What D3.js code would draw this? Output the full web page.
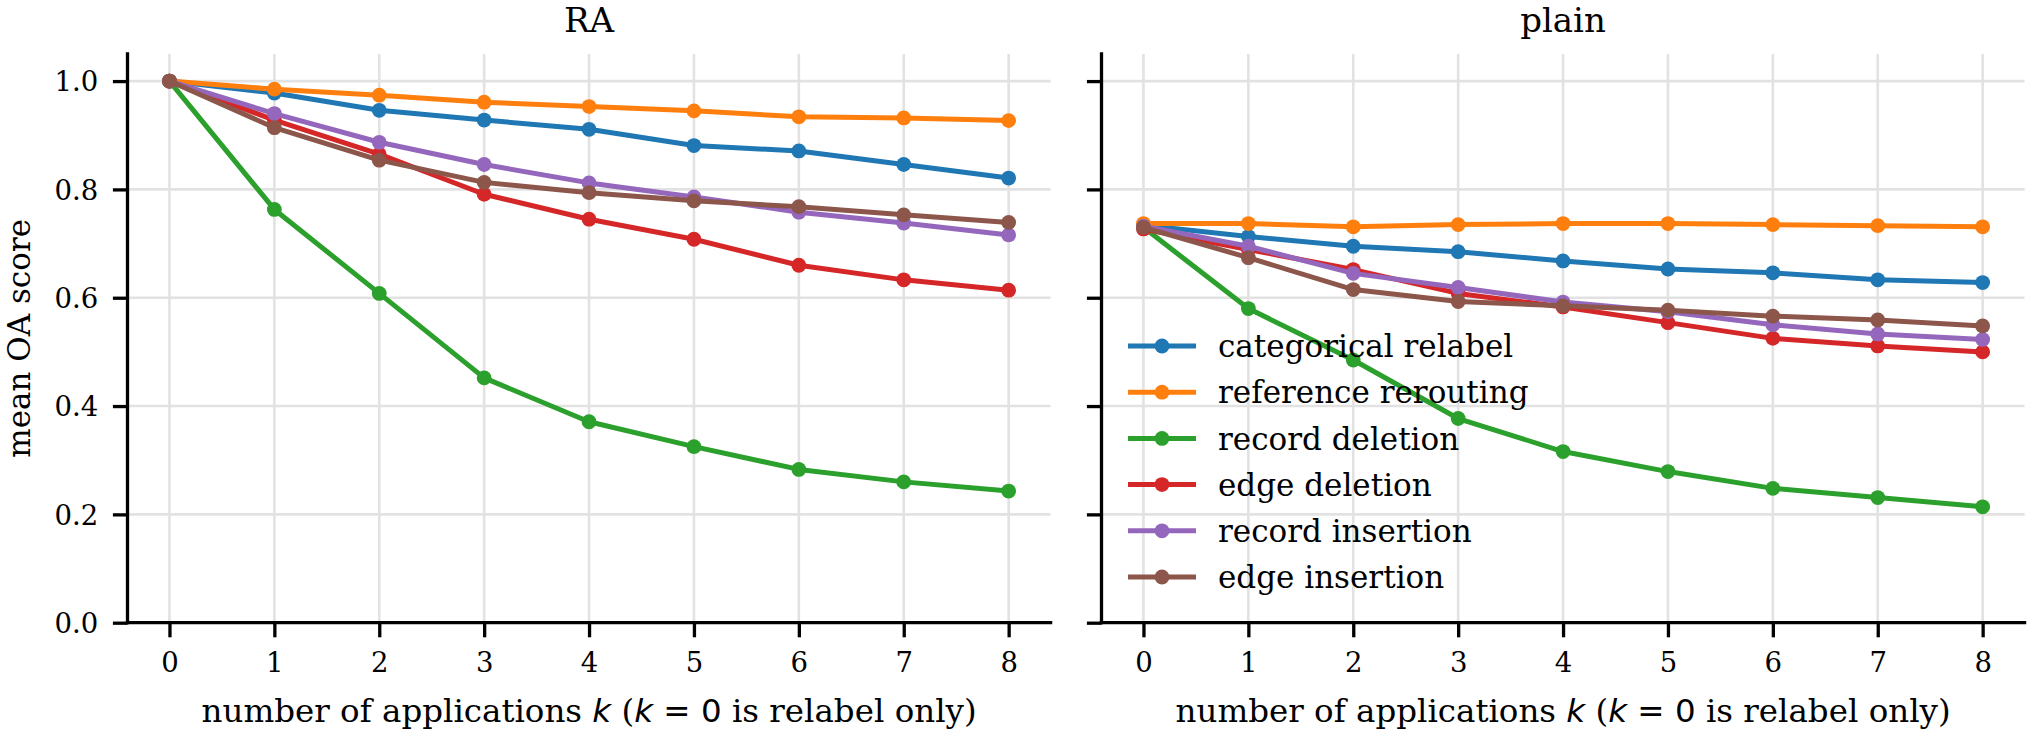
<!DOCTYPE html>
<html>
<head>
<meta charset="utf-8">
<script src="https://cdn.jsdelivr.net/npm/d3@7"></script>
<style>
  body { margin: 0; background: #fff; }
  svg { display: block; }
  text { font-family: "DejaVu Serif", serif; fill: #000; }
  .math { font-family: "DejaVu Sans", sans-serif; }
</style>
</head>
<body>
<div id="chart"></div>
<script>

// number of applications k
const ks = [0, 1, 2, 3, 4, 5, 6, 7, 8];

const seriesNames = ["categorical relabel", "reference rerouting", "record deletion",
	"edge deletion", "record insertion", "edge insertion"];
const seriesColors = ["#1f77b4", "#ff7f0e", "#2ca02c", "#d62728", "#9467bd", "#8c564b"];

// RA panel
const raCategorical = [1.000, 0.978, 0.946, 0.928, 0.911, 0.881, 0.871, 0.846, 0.821];
const raReference   = [1.000, 0.985, 0.974, 0.961, 0.953, 0.945, 0.934, 0.932, 0.927];
const raRecordDel   = [1.000, 0.763, 0.608, 0.452, 0.371, 0.325, 0.283, 0.260, 0.243];
const raEdgeDel     = [1.000, 0.928, 0.865, 0.791, 0.745, 0.708, 0.660, 0.633, 0.614];
const raRecordIns   = [1.000, 0.940, 0.887, 0.846, 0.812, 0.786, 0.758, 0.738, 0.716];
const raEdgeIns     = [1.000, 0.914, 0.854, 0.813, 0.794, 0.779, 0.768, 0.753, 0.739];

// plain panel
const plainCategorical = [0.734, 0.713, 0.695, 0.685, 0.668, 0.653, 0.646, 0.633, 0.628];
const plainReference   = [0.737, 0.737, 0.731, 0.735, 0.737, 0.737, 0.735, 0.733, 0.731];
const plainRecordDel   = [0.730, 0.580, 0.485, 0.377, 0.316, 0.279, 0.248, 0.231, 0.214];
const plainEdgeDel     = [0.727, 0.689, 0.652, 0.608, 0.583, 0.554, 0.525, 0.511, 0.500];
const plainRecordIns   = [0.732, 0.695, 0.645, 0.619, 0.592, 0.574, 0.550, 0.533, 0.523];
const plainEdgeIns     = [0.730, 0.674, 0.615, 0.593, 0.585, 0.577, 0.566, 0.559, 0.548];

const yTicks = [0.0, 0.2, 0.4, 0.6, 0.8, 1.0];

const panels = [
	{title: "RA", left: 127.5, series: [raCategorical, raReference, raRecordDel, raEdgeDel, raRecordIns, raEdgeIns], yLabels: true},
	{title: "plain", left: 1101.5, series: [plainCategorical, plainReference, plainRecordDel, plainEdgeDel, plainRecordIns, plainEdgeIns], yLabels: false}
];

const W = 2028, H = 733;
const panelW = 923.1;
const plotTop = 54, plotBottom = 622.7;
const tickLen = 14.6, tickPad = 14.6;

const svg = d3.select("#chart").append("svg")
	.attr("width", W)
	.attr("height", H);

let y = d3.scaleLinear().domain([0, 1.05]).range([plotBottom, plotTop]);

panels.forEach(function(p, pi) {
	let x = d3.scaleLinear().domain([-0.4, 8.4]).range([p.left, p.left + panelW]);
	let g = svg.append("g");

	// grid
	g.selectAll(".vgrid").data(ks).enter().append("line")
		.attr("x1", d => x(d)).attr("x2", d => x(d))
		.attr("y1", plotTop).attr("y2", plotBottom)
		.attr("stroke", "#e2e2e2").attr("stroke-width", 2.6);
	g.selectAll(".hgrid").data(yTicks).enter().append("line")
		.attr("x1", p.left).attr("x2", p.left + panelW)
		.attr("y1", d => y(d)).attr("y2", d => y(d))
		.attr("stroke", "#e2e2e2").attr("stroke-width", 2.6);

	// lines + markers
	let line = d3.line().x((d, i) => x(ks[i])).y(d => y(d));
	p.series.forEach(function(vals, si) {
		g.append("path")
			.attr("d", line(vals))
			.attr("fill", "none")
			.attr("stroke", seriesColors[si])
			.attr("stroke-width", 5)
			.attr("stroke-linejoin", "round");
		g.selectAll(".dot" + si).data(vals).enter().append("circle")
			.attr("cx", (d, i) => x(ks[i]))
			.attr("cy", d => y(d))
			.attr("r", 7.4)
			.attr("fill", seriesColors[si]);
	});

	// axes
	let xAxis = d3.axisBottom(x).tickValues(ks).tickSize(tickLen).tickPadding(tickPad);
	let yAxis = d3.axisLeft(y).tickValues(yTicks).tickSize(tickLen).tickPadding(tickPad)
		.tickFormat(p.yLabels ? d3.format(".1f") : () => "");

	let gx = g.append("g").attr("transform", "translate(0," + plotBottom + ")").call(xAxis);
	let gy = g.append("g").attr("transform", "translate(" + p.left + ",0)").call(yAxis);

	[gx, gy].forEach(function(a) {
		a.select(".domain").remove();
		a.selectAll(".tick line").attr("stroke", "#000").attr("stroke-width", 3.3);
		a.selectAll(".tick text").attr("font-family", "DejaVu Serif").attr("font-size", 27.5).attr("fill", "#000");
	});
	gx.selectAll(".tick text").attr("dy", "0.74em");
	gy.selectAll(".tick text").attr("dy", "0.36em");

	// spines
	g.append("line").attr("x1", p.left).attr("x2", p.left)
		.attr("y1", plotTop).attr("y2", plotBottom)
		.attr("stroke", "#000").attr("stroke-width", 3.3).attr("stroke-linecap", "square");
	g.append("line").attr("x1", p.left).attr("x2", p.left + panelW)
		.attr("y1", plotBottom).attr("y2", plotBottom)
		.attr("stroke", "#000").attr("stroke-width", 3.3).attr("stroke-linecap", "square");

	// title
	g.append("text")
		.attr("x", p.left + panelW / 2).attr("y", 31.5)
		.attr("text-anchor", "middle")
		.attr("font-size", 34)
		.text(p.title);

	// x label with italic k
	let xl = g.append("text")
		.attr("x", p.left + panelW / 2).attr("y", 722)
		.attr("text-anchor", "middle")
		.attr("font-size", 32.5);
	xl.append("tspan").text("number of applications ");
	xl.append("tspan").attr("class", "math").attr("font-style", "italic").text("k");
	xl.append("tspan").text(" (");
	xl.append("tspan").attr("class", "math").attr("font-style", "italic").text("k");
	xl.append("tspan").attr("class", "math").text(" = 0");
	xl.append("tspan").text(" is relabel only)");

	if (pi === 0) {
		g.append("text")
			.attr("transform", "translate(30," + ((plotTop + plotBottom) / 2) + ") rotate(-90)")
			.attr("text-anchor", "middle")
			.attr("font-size", 31)
			.text("mean OA score");
	}

	// legend in the plain panel
	if (pi === 1) {
		let lg = g.append("g").attr("transform", "translate(1128,346)");
		let rows = lg.selectAll(".leg").data(seriesNames).enter().append("g")
			.attr("transform", (d, i) => "translate(0," + (i * 46.2) + ")");
		rows.append("line")
			.attr("x1", 0).attr("x2", 68).attr("y1", 0).attr("y2", 0)
			.attr("stroke", (d, i) => seriesColors[i]).attr("stroke-width", 5);
		rows.append("circle")
			.attr("cx", 34).attr("cy", 0).attr("r", 7.4)
			.attr("fill", (d, i) => seriesColors[i]);
		rows.append("text")
			.attr("x", 90).attr("y", 0).attr("dy", "0.36em")
			.attr("font-size", 31)
			.text(d => d);
	}
});

</script>
</body>
</html>
